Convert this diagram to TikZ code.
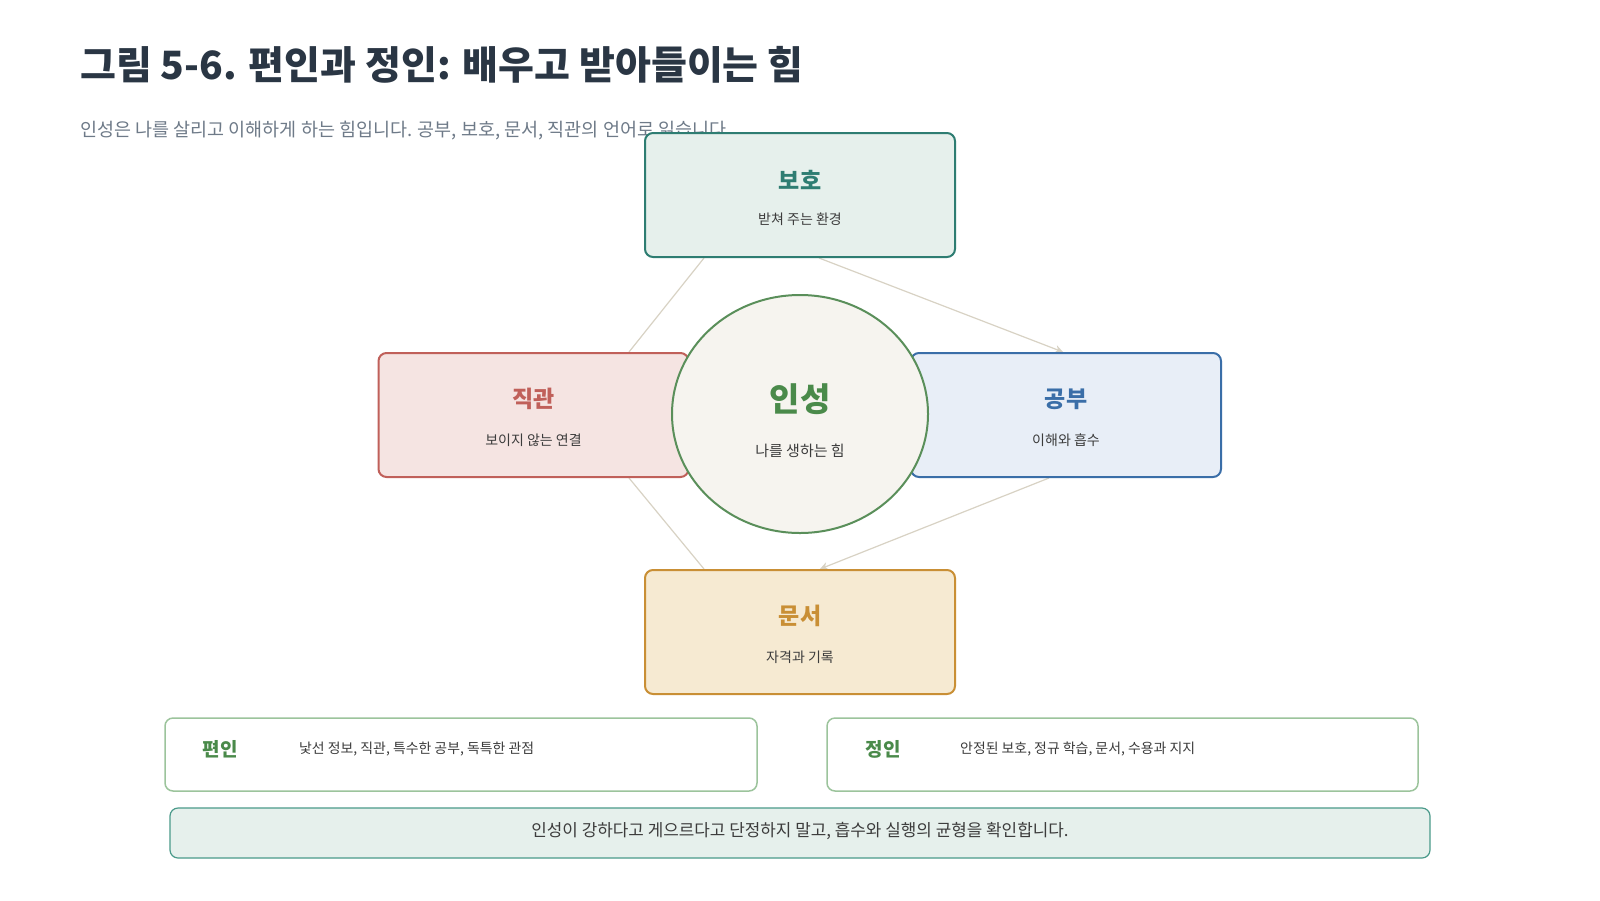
\documentclass[tikz,border=0pt]{standalone}
\usepackage{fontspec}
\setmainfont{Noto Sans CJK KR}
\usetikzlibrary{shapes.geometric,backgrounds,arrows.meta}
\definecolor{titlec}{HTML}{2A3644}
\definecolor{subc}{HTML}{6E7A88}
\definecolor{bodyc}{HTML}{3C3C3C}
\definecolor{tealb}{HTML}{2E7D72}
\definecolor{tealf}{HTML}{E6F0EC}
\definecolor{redb}{HTML}{C0605A}
\definecolor{redf}{HTML}{F5E4E2}
\definecolor{blueb}{HTML}{3A6EA8}
\definecolor{bluef}{HTML}{E8EEF7}
\definecolor{goldb}{HTML}{C98F35}
\definecolor{goldf}{HTML}{F6EAD2}
\definecolor{greenb}{HTML}{5A8F5A}
\definecolor{greent}{HTML}{4A8A4A}
\definecolor{circf}{HTML}{F6F4EF}
\definecolor{lgreen}{HTML}{9CC49C}
\definecolor{bannerb}{HTML}{4A9A8A}
\definecolor{edgec}{HTML}{D8D2C4}
\tikzset{
  box/.style={draw, line width=2pt, rounded corners=8pt, minimum width=310pt, minimum height=124pt, inner sep=0pt},
  ttl/.style={font=\fontsize{23}{26}\selectfont\bfseries, inner sep=0pt},
  sub/.style={font=\fontsize{14}{16}\selectfont, text=bodyc, inner sep=0pt},
  lnk/.style={draw=edgec, line width=1.2pt},
  arr/.style={lnk, -{Stealth[length=8pt,width=8pt]}},
  lbox/.style={draw=lgreen, line width=1.5pt, rounded corners=8pt, fill=white, inner sep=0pt},
  lbl/.style={font=\fontsize{19}{21}\selectfont\bfseries, text=greent, inner sep=0pt},
  ltxt/.style={font=\fontsize{13.9}{16}\selectfont, text=bodyc, inner sep=0pt, anchor=west}
}
\begin{document}
\begin{tikzpicture}[x=1pt,y=-1pt]
\useasboundingbox (0,0) rectangle (1600,900);
\node[anchor=west, inner sep=0pt, text=titlec, font=\fontsize{39}{43}\selectfont\bfseries] (title) at (80,65) {그림 5-6. 편인과 정인: 배우고 받아들이는 힘};
\node[anchor=west, inner sep=0pt, text=subc, font=\fontsize{18.5}{21}\selectfont] (subtitle) at (80,131) {인성은 나를 살리고 이해하게 하는 힘입니다. 공부, 보호, 문서, 직관의 언어로 읽습니다.};
% boxes
\node[box, draw=tealb, fill=tealf] (bh) at (800,195) {};
\node[ttl, text=tealb] (bhT) at ([yshift=15pt]bh.center) {보호};
\node[sub] (bhS) at ([yshift=-24pt]bh.center) {받쳐 주는 환경};
\node[box, draw=redb, fill=redf] (jg) at (533.5,415) {};
\node[ttl, text=redb] (jgT) at ([yshift=16pt]jg.center) {직관};
\node[sub] (jgS) at ([yshift=-25pt]jg.center) {보이지 않는 연결};
\node[box, draw=blueb, fill=bluef] (gb) at (1066,415) {};
\node[ttl, text=blueb] (gbT) at ([yshift=16pt]gb.center) {공부};
\node[sub] (gbS) at ([yshift=-25pt]gb.center) {이해와 흡수};
\node[box, draw=goldb, fill=goldf] (ms) at (800,632) {};
\node[ttl, text=goldb] (msT) at ([yshift=16pt]ms.center) {문서};
\node[sub] (msS) at ([yshift=-25pt]ms.center) {자격과 기록};
\node[ellipse, draw=greenb, line width=2pt, fill=circf, minimum width=256pt, minimum height=238pt, inner sep=0pt] (is) at (800,414) {};
\node[inner sep=0pt, text=greent, font=\fontsize{33}{37}\selectfont\bfseries] (isT) at ([yshift=15pt]is.center) {인성};
\node[sub, font=\fontsize{15}{17}\selectfont] (isS) at ([yshift=-37pt]is.center) {나를 생하는 힘};
\begin{scope}[on background layer]
\fill[white] (0,0) rectangle (1600,900);
\draw[arr] ([xshift=19pt]bh.south) -- ([xshift=-3pt]gb.north);
\draw[arr] ([xshift=-17pt]gb.south) -- ([xshift=20pt]ms.north);
\draw[lnk] ([xshift=-96pt]ms.north) -- ([xshift=95.5pt]jg.south);
\draw[lnk] ([xshift=95.5pt]jg.north) -- ([xshift=-96pt]bh.south);
\end{scope}
% bottom boxes
\node[lbox, minimum width=592pt, minimum height=73pt] (pi) at (461,754.5) {};
\node[lbl] (piL) at (220,749) {편인};
\node[ltxt] (piT) at (299,749) {낯선 정보, 직관, 특수한 공부, 독특한 관점};
\node[lbox, minimum width=591pt, minimum height=73pt] (ji) at (1122.5,754.5) {};
\node[lbl] (jiL) at (883,749) {정인};
\node[ltxt] (jiT) at (960,749) {안정된 보호, 정규 학습, 문서, 수용과 지지};
\node[draw=bannerb, line width=1.2pt, fill=tealf, rounded corners=8pt, minimum width=1260pt, minimum height=50pt, inner sep=0pt] (bn) at (800,833) {};
\node[inner sep=0pt, text=bodyc, font=\fontsize{16.9}{19}\selectfont] (bnT) at (800,831) {인성이 강하다고 게으르다고 단정하지 말고, 흡수와 실행의 균형을 확인합니다.};
\end{tikzpicture}
\end{document}
